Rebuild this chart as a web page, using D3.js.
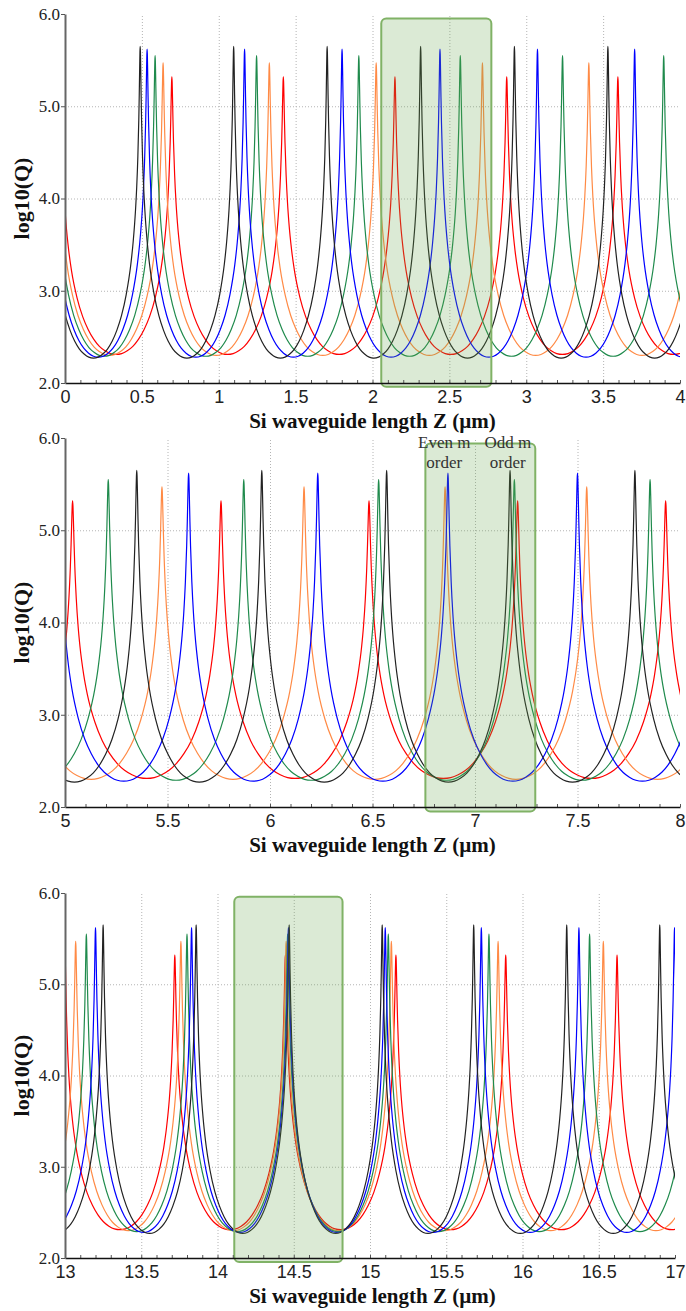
<!DOCTYPE html>
<html>
<head>
<meta charset="utf-8">
<script src="https://cdn.jsdelivr.net/npm/d3@7"></script>
<style>
body{margin:0;background:#fff;}
.curve{fill:none;stroke-width:1.2;}
.grid line{stroke:#b4b4b4;stroke-dasharray:1,2;}
.grid path{display:none;}
.yaxis path{stroke:#666;stroke-width:2;}
.yaxis line{stroke:#555;}
.yaxis text{font-family:"Liberation Serif",serif;font-size:17px;fill:#222;}
.xaxis path{stroke:#111;stroke-width:1.5;}
.xaxis line{stroke:#333;}
.xaxis text{font-family:"Liberation Sans",Arial,sans-serif;font-size:18px;fill:#222;}
.minor line{stroke:#555;}
.minor path{display:none;}
.xtitle,.ytitle{font-family:"Liberation Serif",serif;font-weight:bold;fill:#111;}
.xtitle{font-size:21px;}
.ytitle{font-size:22px;}
.box{fill:#6aa84f;fill-opacity:0.24;stroke:#80b266;stroke-width:2;}
.note{font-family:"Liberation Serif",serif;font-size:17px;fill:#333;}
</style>
</head>
<body>
<div id="chart"></div>
<script>
var w = 686;
var h = 1311;

// series drawn in this order (black last, on top)
var seriesNames = ["red", "orange", "green", "blue", "black"];
var seriesColors = ["#ff0000", "#ff8a45", "#1f8a4c", "#0000ff", "#222222"];
var peakTops = [5.32, 5.47, 5.55, 5.62, 5.65];   // log10(Q) at resonance
var minLevels = [2.31, 2.30, 2.29, 2.28, 2.27];  // log10(Q) between resonances

// resonance positions Z (um), incl. the ones just outside the frame
var panel1Peaks = [
  [-0.030, 0.695, 1.420, 2.146, 2.873, 3.596, 4.321],
  [-0.054, 0.638, 1.329, 2.024, 2.715, 3.407, 4.099],
  [-0.076, 0.586, 1.246, 1.911, 2.571, 3.236, 3.894, 4.556],
  [-0.100, 0.534, 1.168, 1.802, 2.439, 3.073, 3.705, 4.339],
  [-0.119, 0.489, 1.097, 1.705, 2.313, 2.923, 3.531, 4.139]
];
var panel2Peaks = [
  [4.314, 5.037, 5.761, 6.483, 7.208, 7.930, 8.653],
  [4.782, 5.473, 6.166, 6.854, 7.545, 8.236],
  [4.550, 5.211, 5.872, 6.530, 7.192, 7.854, 8.515],
  [4.340, 4.970, 5.603, 6.233, 6.868, 7.500, 8.133],
  [4.742, 5.350, 5.960, 6.569, 7.171, 7.780, 8.388]
];
var panel3Peaks = [
  [12.28, 13.00, 13.72, 14.445, 15.17, 15.89, 16.62, 17.34],
  [12.38, 13.07, 13.76, 14.45, 15.14, 15.84, 16.53, 17.22],
  [12.48, 13.14, 13.80, 14.46, 15.12, 15.78, 16.44, 17.10],
  [12.57, 13.20, 13.83, 14.465, 15.10, 15.73, 16.37, 16.997, 17.63],
  [12.64, 13.25, 13.86, 14.47, 15.08, 15.68, 16.29, 16.90, 17.51]
];

// line shape of one resonance: distance from the peak (fraction of half spacing)
// and height above the floor (fraction of peak-to-floor), read from an isolated peak
var profileT = [0, 0.005, 0.01, 0.02, 0.03, 0.05, 0.075, 0.1, 0.15, 0.2, 0.3, 0.4, 0.5, 0.6, 0.7, 0.8, 0.9, 1.0];
var profileF = [1, 0.982, 0.940, 0.844, 0.763, 0.646, 0.546, 0.474, 0.373, 0.301, 0.203, 0.136, 0.089, 0.054, 0.029, 0.013, 0.003, 0];

var yTicks = [2, 3, 4, 5, 6];
var panel1XTicks = [0, 0.5, 1, 1.5, 2, 2.5, 3, 3.5, 4];
var panel2XTicks = [5, 5.5, 6, 6.5, 7, 7.5, 8];
var panel3XTicks = [13, 13.5, 14, 14.5, 15, 15.5, 16, 16.5, 17];

// highlight boxes [z0, z1, yTop, yBottom]
var panel1Box = [2.057, 2.773, 5.95, 1.96];
var panel2Box = [6.758, 7.294, 5.94, 1.95];
var panel3Box = [14.11, 14.82, 5.96, 1.955];
var panel2Notes = [["Even m", "order", 6.85], ["Odd m", "order", 7.16]];

var panels = [
  {dom: [0, 4], peaks: panel1Peaks, ticks: panel1XTicks, box: panel1Box, top: 14, bottom: 383, left: 65, right: 680},
  {dom: [5, 8], peaks: panel2Peaks, ticks: panel2XTicks, box: panel2Box, top: 438, bottom: 807, left: 65, right: 680, notes: panel2Notes},
  {dom: [13, 17], peaks: panel3Peaks, ticks: panel3XTicks, box: panel3Box, top: 893, bottom: 1258, left: 65, right: 675}
];

var svg = d3.select("#chart")
            .append("svg")
            .attr("width", w)
            .attr("height", h);

function resonancePoints(pk, top, floor){
  var pts = [];
  for (var i = 0; i < pk.length; i++){
    var leftHalf = i > 0 ? (pk[i] - pk[i-1]) / 2 : (pk[i+1] - pk[i]) / 2;
    var rightHalf = i < pk.length - 1 ? (pk[i+1] - pk[i]) / 2 : leftHalf;
    var start = i > 0 ? profileT.length - 2 : profileT.length - 1; // skip shared minimum
    for (var j = start; j > 0; j--){
      pts.push([pk[i] - profileT[j] * leftHalf, floor + (top - floor) * profileF[j]]);
    }
    pts.push([pk[i], top]);
    for (j = 1; j < profileT.length; j++){
      pts.push([pk[i] + profileT[j] * rightHalf, floor + (top - floor) * profileF[j]]);
    }
  }
  return pts;
}

panels.forEach(function(p, pi){
  var xScale = d3.scaleLinear().domain(p.dom).range([p.left, p.right]);
  var yScale = d3.scaleLinear().domain([2, 6]).range([p.bottom, p.top]);
  var g = svg.append("g");

  g.append("clipPath").attr("id", "clip" + pi)
    .append("rect")
    .attr("x", p.left).attr("y", p.top)
    .attr("width", p.right - p.left).attr("height", p.bottom - p.top);

  // grid
  g.append("g").attr("class", "grid")
    .attr("transform", "translate(0," + p.bottom + ")")
    .call(d3.axisBottom(xScale).tickValues(p.ticks.slice(1, -1)).tickSize(-(p.bottom - p.top)).tickFormat(""));
  g.append("g").attr("class", "grid")
    .attr("transform", "translate(" + p.left + ",0)")
    .call(d3.axisLeft(yScale).tickValues([3, 4, 5]).tickSize(-(p.right - p.left)).tickFormat(""));

  var line = d3.line()
    .x(function(d){ return xScale(d[0]); })
    .y(function(d){ return yScale(d[1]); })
    .curve(d3.curveMonotoneX);

  var curves = g.append("g").attr("clip-path", "url(#clip" + pi + ")");
  p.peaks.forEach(function(pk, si){
    curves.append("path")
      .datum(resonancePoints(pk, peakTops[si], minLevels[si]))
      .attr("class", "curve")
      .attr("stroke", seriesColors[si])
      .attr("d", line);
  });

  // highlight box over the curves
  g.append("rect")
    .attr("class", "box")
    .attr("x", xScale(p.box[0]))
    .attr("y", yScale(p.box[2]))
    .attr("width", xScale(p.box[1]) - xScale(p.box[0]))
    .attr("height", yScale(p.box[3]) - yScale(p.box[2]))
    .attr("rx", 5);

  if (p.notes){
    p.notes.forEach(function(n){
      var t = g.append("text").attr("class", "note")
        .attr("text-anchor", "middle")
        .attr("x", xScale(n[2]))
        .attr("y", p.top + 10);
      t.append("tspan").attr("x", xScale(n[2])).text(n[0]);
      t.append("tspan").attr("x", xScale(n[2])).attr("dy", 20).text(n[1]);
    });
  }

  // axes
  var minorTicks = d3.range(p.dom[0], p.dom[1] + 0.001, 0.1);
  g.append("g").attr("class", "minor")
    .attr("transform", "translate(0," + p.bottom + ")")
    .call(d3.axisBottom(xScale).tickValues(minorTicks).tickSize(-3).tickFormat(""));

  g.append("g").attr("class", "xaxis")
    .attr("transform", "translate(0," + p.bottom + ")")
    .call(d3.axisBottom(xScale).tickValues(p.ticks).tickSizeInner(0).tickSizeOuter(0).tickPadding(7)
      .tickFormat(function(d){ return String(d); }));

  g.append("g").attr("class", "yaxis")
    .attr("transform", "translate(" + p.left + ",0)")
    .call(d3.axisLeft(yScale).tickValues(yTicks).tickSizeInner(4).tickSizeOuter(0).tickPadding(1)
      .tickFormat(d3.format(".1f")));

  g.append("text").attr("class", "xtitle")
    .attr("text-anchor", "middle")
    .attr("x", (p.left + 680) / 2)
    .attr("y", p.bottom + 45)
    .text("Si waveguide length Z (\u00b5m)");

  g.append("text").attr("class", "ytitle")
    .attr("text-anchor", "middle")
    .attr("transform", "translate(29," + (p.top + p.bottom) / 2 + ") rotate(-90)")
    .text("log10(Q)");
});
</script>
</body>
</html>
